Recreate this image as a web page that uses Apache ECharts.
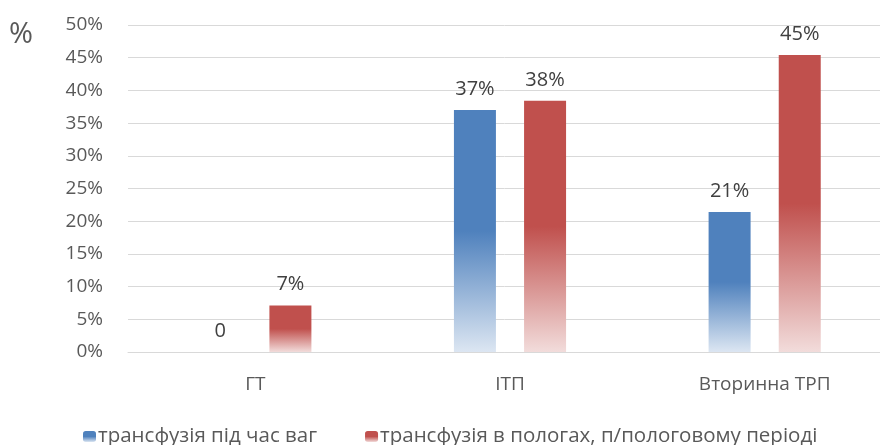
<!DOCTYPE html>
<html style="height: 100%">
<head>
    <meta charset="UTF-8">
    <script type="text/javascript" src="https://cdn.jsdelivr.net/npm/echarts@6/dist/echarts.min.js"></script>
</head>
<body style="height: 100%; margin: 0">
    <div id="container" style="width: 880px; height: 445px"></div>
    <script type="text/javascript">
        var categories = ['ГТ', 'ІТП', 'Вторинна ТРП'];
        var duringPregnancy = [0, 37.0, 21.4];
        var postpartum = [7.1, 38.4, 45.4];
        var seriesNames = ['трансфузія під час ваг', 'трансфузія в пологах, п/пологовому періоді'];

        var dom = document.getElementById('container');
        var myChart = echarts.init(dom);

        function fade(top, bottom) {
            return new echarts.graphic.LinearGradient(0, 0, 0, 1, [
                { offset: 0, color: top },
                { offset: 0.5, color: top },
                { offset: 1, color: bottom }
            ]);
        }

        function pct(p) {
            return p.value === 0 ? '0' : Math.round(p.value) + '%';
        }

        var labelStyle = {
            show: true,
            position: 'top',
            distance: 11,
            fontSize: 20,
            color: '#404040',
            fontFamily: 'Open Sans',
            formatter: pct
        };

        var option = {
            textStyle: { fontFamily: 'Open Sans' },
            animation: false,
            grid: { left: 128, top: 25, width: 764, bottom: 93, outerBoundsMode: 'none', containLabel: false },
            graphic: [{
                type: 'text',
                left: 9,
                top: 20,
                style: { text: '%', fontSize: 29, fill: '#595959', fontFamily: 'Open Sans' }
            }],
            legend: {
                bottom: -7,
                left: 78,
                itemWidth: 13,
                itemHeight: 11,
                itemGap: 48,
                textStyle: { fontSize: 20.5, color: '#595959', padding: [0, 0, 0, -3] },
                data: seriesNames
            },
            xAxis: {
                type: 'category',
                data: categories,
                axisLine: { lineStyle: { color: '#d9d9d9', width: 1 } },
                axisTick: { show: false },
                axisLabel: { fontSize: 19, color: '#595959', margin: 23 }
            },
            yAxis: {
                type: 'value',
                min: 0,
                max: 50,
                interval: 5,
                axisLine: { show: false },
                axisTick: { show: false },
                splitLine: { lineStyle: { color: '#d9d9d9', width: 1 } },
                axisLabel: { fontSize: 19, color: '#595959', margin: 25, formatter: '{value}%' }
            },
            series: [{
                name: seriesNames[0],
                type: 'bar',
                barWidth: 42,
                barGap: '67%',
                data: duringPregnancy,
                itemStyle: { color: fade('#4f81bd', '#dce6f2') },
                label: labelStyle
            }, {
                name: seriesNames[1],
                type: 'bar',
                barWidth: 42,
                data: postpartum,
                itemStyle: { color: fade('#c0504d', '#f2dcdb') },
                label: labelStyle
            }]
        };

        myChart.setOption(option);
    </script>
</body>
</html>
